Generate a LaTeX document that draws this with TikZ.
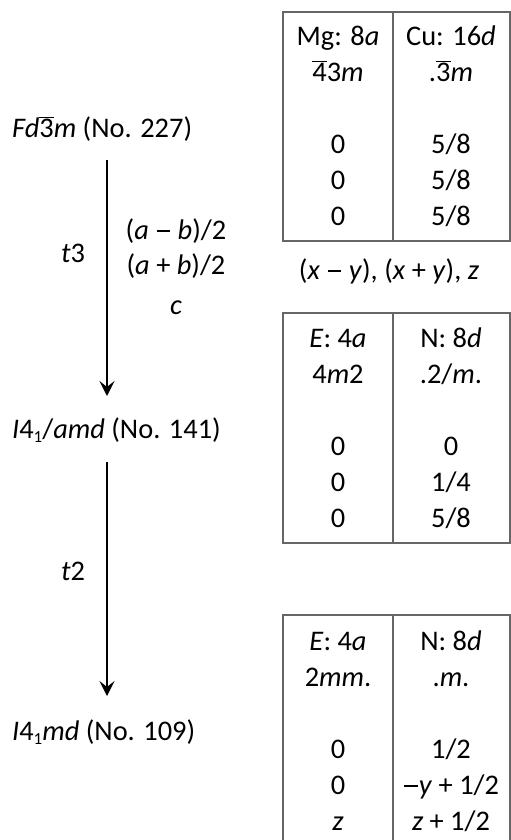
\documentclass[tikz,border=0pt]{standalone}
\usepackage{fontspec}
\setmainfont{Carlito}
\usetikzlibrary{arrows.meta}

\newcommand{\ob}[1]{\ensuremath{\overline{\mbox{#1}}}}
\newcommand{\mn}{\kern0.04em\rule[0.24em]{0.48em}{0.07em}\kern0.04em}
\newcommand{\sbone}{\raisebox{-0.3ex}{\fontsize{17}{18}\selectfont 1}}

\begin{document}
\begin{tikzpicture}[x=1bp,y=-1bp,font=\fontsize{28.5}{32}\selectfont,
  tab/.style={draw=black!60,line width=1.6bp},
  down/.style={-{Stealth[length=15bp,width=15bp,inset=6bp]},line width=2.6bp}]

\useasboundingbox (0,0) rectangle (511,840);

\node[anchor=base west,inner sep=0] (G227) at (12,137) {\textit{Fd}\ob{3}\textit{m} (No. 227)};
\node[anchor=base west,inner sep=0] (G141) at (12,438) {\textit{I}4\sbone/\textit{amd} (No. 141)};
\node[anchor=base west,inner sep=0] (G109) at (12,740) {\textit{I}4\sbone\textit{md} (No. 109)};

\coordinate (a1) at (107,160);
\coordinate (b1) at (107,396);
\coordinate (a2) at (107,462);
\coordinate (b2) at (107,696);
\draw[down] (a1) -- (b1);
\draw[down] (a2) -- (b2);

\node[anchor=base] (t3) at (73,262) {\textit{t}3};
\node[anchor=base] (t2) at (73,580) {\textit{t}2};
\node[anchor=base] (ab1) at (176,239) {(\textit{a} \mn{} \textit{b})/2};
\node[anchor=base] (ab2) at (176,274) {(\textit{a} + \textit{b})/2};
\node[anchor=base] (ab3) at (176,314) {\textit{c}};

\draw[tab] (283,12) rectangle (510,241);
\draw[tab] (393,12) -- (393,241);
\node[anchor=base] (m1) at (338,45) {Mg: 8\textit{a}};
\node[anchor=base] (m2) at (338,81) {\ob{4}3\textit{m}};
\node[anchor=base] (m3) at (338,153) {0};
\node[anchor=base] (m4) at (338,189) {0};
\node[anchor=base] (m5) at (338,225) {0};
\node[anchor=base] (c1) at (451,45) {Cu: 16\textit{d}};
\node[anchor=base] (c2) at (451,81) {.\ob{3}\textit{m}};
\node[anchor=base] (c3) at (451,153) {5/8};
\node[anchor=base] (c4) at (451,189) {5/8};
\node[anchor=base] (c5) at (451,225) {5/8};

\node[anchor=base] (xyz) at (389,279) {(\textit{x} \mn{} \textit{y}), (\textit{x} + \textit{y}), \textit{z}};

\draw[tab] (283,313) rectangle (510,543);
\draw[tab] (393,313) -- (393,543);
\node[anchor=base] (e1) at (338,347) {\textit{E}: 4\textit{a}};
\node[anchor=base] (e2) at (338,383) {4\textit{m}2};
\node[anchor=base] (e3) at (338,455) {0};
\node[anchor=base] (e4) at (338,491) {0};
\node[anchor=base] (e5) at (338,527) {0};
\node[anchor=base] (n1) at (451,347) {N: 8\textit{d}};
\node[anchor=base] (n2) at (451,383) {.2/\textit{m}.};
\node[anchor=base] (n3) at (451,455) {0};
\node[anchor=base] (n4) at (451,491) {1/4};
\node[anchor=base] (n5) at (451,527) {5/8};

\draw[tab] (283,840) -- (283,615) -- (510,615) -- (510,840);
\draw[tab] (393,615) -- (393,840);
\node[anchor=base] (f1) at (338,650) {\textit{E}: 4\textit{a}};
\node[anchor=base] (f2) at (338,686) {2\textit{mm}.};
\node[anchor=base] (f3) at (338,758) {0};
\node[anchor=base] (f4) at (338,794) {0};
\node[anchor=base] (f5) at (338,830) {\textit{z}};
\node[anchor=base] (k1) at (451,650) {N: 8\textit{d}};
\node[anchor=base] (k2) at (451,686) {.\textit{m}.};
\node[anchor=base] (k3) at (451,758) {1/2};
\node[anchor=base] (k4) at (451,794) {\mn\textit{y} + 1/2};
\node[anchor=base] (k5) at (451,830) {\textit{z} + 1/2};

\end{tikzpicture}
\end{document}
